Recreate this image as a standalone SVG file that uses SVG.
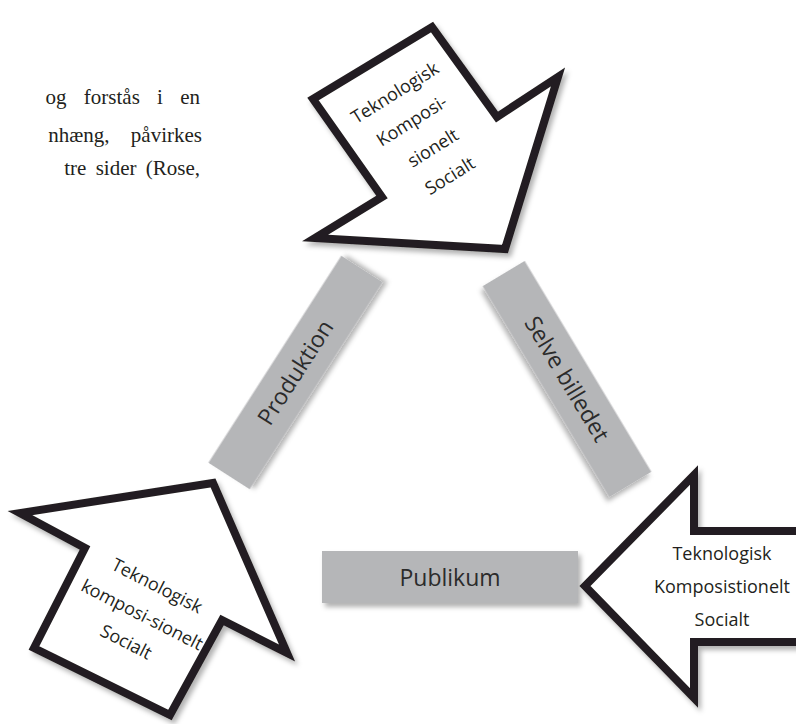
<svg xmlns="http://www.w3.org/2000/svg" width="796" height="724" viewBox="0 0 796 724">
<defs>
<filter id="sh" x="-20%" y="-20%" width="140%" height="140%">
<feDropShadow dx="3" dy="4" stdDeviation="2.5" flood-color="#000" flood-opacity="0.3"/>
</filter>
<style>
.arrow{fill:#fff;stroke:#231f20;stroke-width:8;stroke-linejoin:miter;filter:url(#sh)}
.box{fill:#b5b6b8;filter:url(#sh)}
.at{font-family:"Open Sans","Noto Sans",sans-serif;font-size:18px;fill:#231f20;text-anchor:middle}
.bt{font-family:"Open Sans","Noto Sans",sans-serif;font-size:23px;fill:#2b2b2b;text-anchor:middle}
.body{font-family:"Liberation Serif","Times New Roman",serif;font-size:21px;fill:#231f20;text-anchor:end}
</style>
</defs>
<g id="bodytext">
<text class="body" x="200" y="104" word-spacing="12">og forstås i en</text>
<text class="body" x="202" y="142" word-spacing="16">nhæng, påvirkes</text>
<text class="body" x="200" y="175" word-spacing="4">tre sider (Rose,</text>
</g>
<g id="connectors">
<g id="produktion">
<rect class="box" x="-123" y="-24.5" width="246" height="49" transform="translate(295.5,372.5) rotate(-57.3)"/>
<text class="bt" transform="translate(295.5,372.5) rotate(-57.3)" y="8">Produktion</text>
</g>
<g id="selve">
<rect class="box" x="-123" y="-24.5" width="246" height="49" transform="translate(567,379) rotate(59)"/>
<text class="bt" transform="translate(567,379) rotate(59)" y="8">Selve billedet</text>
</g>
<g id="publikum">
<rect class="box" x="322" y="551" width="256" height="52"/>
<text class="bt" x="450" y="586">Publikum</text>
</g>
</g>
<g id="arrow-top">
<polygon class="arrow" points="313,99 432,27 497,117 558,77 505,249 315,238 382,197"/>
<g class="at">
<text transform="translate(395,93) rotate(-32)" y="6">Teknologisk</text>
<text transform="translate(412,121) rotate(-32)" y="6">Komposi-</text>
<text transform="translate(433,148) rotate(-32)" y="6">sionelt</text>
<text transform="translate(450,176) rotate(-32)" y="6">Socialt</text>
</g>
</g>
<g id="arrow-left">
<polygon class="arrow" points="34,648 170,715 222,620 287,653 213,483 20,513 85,548"/>
<g class="at">
<text transform="translate(157,586) rotate(27)" y="6">Teknologisk</text>
<text transform="translate(142,615) rotate(27)" y="6">komposi-sionelt</text>
<text transform="translate(126,642) rotate(27)" y="6">Socialt</text>
</g>
</g>
<g id="arrow-right">
<polygon class="arrow" points="804,531 694,531 694,475 585,586 694,698 694,642 804,642"/>
<g class="at">
<text x="722" y="560">Teknologisk</text>
<text x="722" y="593">Komposistionelt</text>
<text x="722" y="626">Socialt</text>
</g>
</g>
</svg>
